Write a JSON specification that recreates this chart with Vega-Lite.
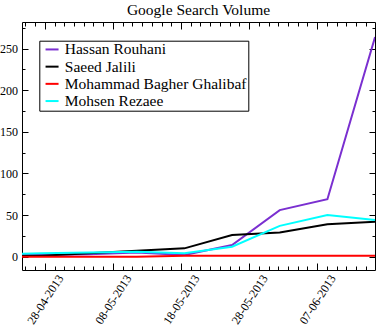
{
  "$schema": "https://vega.github.io/schema/vega-lite/v6.json",
  "width": 353,
  "height": 248,
  "autosize": "none",
  "padding": {"left": 22, "top": 22, "right": 3, "bottom": 57},
  "background": "white",
  "title": {"text": "Google Search Volume", "font": "Liberation Serif", "fontSize": 15.5, "fontWeight": "normal", "color": "#000", "anchor": "middle", "frame": "group", "baseline": "top", "offset": 3.5},
  "data": {"values": [
    {"date": "2013-04-20T12:00:00Z", "candidate": "Hassan Rouhani", "volume": 2},
    {"date": "2013-04-27T12:00:00Z", "candidate": "Hassan Rouhani", "volume": 2},
    {"date": "2013-05-04T12:00:00Z", "candidate": "Hassan Rouhani", "volume": 3},
    {"date": "2013-05-11T12:00:00Z", "candidate": "Hassan Rouhani", "volume": 5},
    {"date": "2013-05-18T12:00:00Z", "candidate": "Hassan Rouhani", "volume": 2},
    {"date": "2013-05-25T12:00:00Z", "candidate": "Hassan Rouhani", "volume": 14},
    {"date": "2013-06-01T12:00:00Z", "candidate": "Hassan Rouhani", "volume": 56},
    {"date": "2013-06-08T12:00:00Z", "candidate": "Hassan Rouhani", "volume": 69},
    {"date": "2013-06-15T12:00:00Z", "candidate": "Hassan Rouhani", "volume": 264},
    {"date": "2013-04-20T12:00:00Z", "candidate": "Saeed Jalili", "volume": 1},
    {"date": "2013-04-27T12:00:00Z", "candidate": "Saeed Jalili", "volume": 1},
    {"date": "2013-05-04T12:00:00Z", "candidate": "Saeed Jalili", "volume": 4},
    {"date": "2013-05-11T12:00:00Z", "candidate": "Saeed Jalili", "volume": 7},
    {"date": "2013-05-18T12:00:00Z", "candidate": "Saeed Jalili", "volume": 10},
    {"date": "2013-05-25T12:00:00Z", "candidate": "Saeed Jalili", "volume": 26},
    {"date": "2013-06-01T12:00:00Z", "candidate": "Saeed Jalili", "volume": 29},
    {"date": "2013-06-08T12:00:00Z", "candidate": "Saeed Jalili", "volume": 39},
    {"date": "2013-06-15T12:00:00Z", "candidate": "Saeed Jalili", "volume": 42},
    {"date": "2013-04-20T12:00:00Z", "candidate": "Mohammad Bagher Ghalibaf", "volume": 0},
    {"date": "2013-04-27T12:00:00Z", "candidate": "Mohammad Bagher Ghalibaf", "volume": 0},
    {"date": "2013-05-04T12:00:00Z", "candidate": "Mohammad Bagher Ghalibaf", "volume": 0},
    {"date": "2013-05-11T12:00:00Z", "candidate": "Mohammad Bagher Ghalibaf", "volume": 0},
    {"date": "2013-05-18T12:00:00Z", "candidate": "Mohammad Bagher Ghalibaf", "volume": 1},
    {"date": "2013-05-25T12:00:00Z", "candidate": "Mohammad Bagher Ghalibaf", "volume": 1},
    {"date": "2013-06-01T12:00:00Z", "candidate": "Mohammad Bagher Ghalibaf", "volume": 1},
    {"date": "2013-06-08T12:00:00Z", "candidate": "Mohammad Bagher Ghalibaf", "volume": 1},
    {"date": "2013-06-15T12:00:00Z", "candidate": "Mohammad Bagher Ghalibaf", "volume": 1},
    {"date": "2013-04-20T12:00:00Z", "candidate": "Mohsen Rezaee", "volume": 3},
    {"date": "2013-04-27T12:00:00Z", "candidate": "Mohsen Rezaee", "volume": 4},
    {"date": "2013-05-04T12:00:00Z", "candidate": "Mohsen Rezaee", "volume": 5},
    {"date": "2013-05-11T12:00:00Z", "candidate": "Mohsen Rezaee", "volume": 6},
    {"date": "2013-05-18T12:00:00Z", "candidate": "Mohsen Rezaee", "volume": 4},
    {"date": "2013-05-25T12:00:00Z", "candidate": "Mohsen Rezaee", "volume": 12},
    {"date": "2013-06-01T12:00:00Z", "candidate": "Mohsen Rezaee", "volume": 37},
    {"date": "2013-06-08T12:00:00Z", "candidate": "Mohsen Rezaee", "volume": 50},
    {"date": "2013-06-15T12:00:00Z", "candidate": "Mohsen Rezaee", "volume": 44}
  ]},
  "layer": [
    {
      "mark": {"type": "line", "strokeWidth": 2, "clip": true},
      "encoding": {
        "x": {"field": "date", "type": "temporal",
          "scale": {"type": "utc", "domain": [1366817760000, 1371296736000], "nice": false},
          "axis": {"orient": "bottom", "title": null, "values": [1367107200000, 1367971200000, 1368835200000, 1369699200000, 1370563200000], "format": "%d-%m-%Y", "tickSize": -7, "labelAngle": -57, "labelAlign": "center", "labelBaseline": "middle", "labelPadding": 36}},
        "y": {"field": "volume", "type": "quantitative",
          "scale": {"domain": [-16, 282], "nice": false, "zero": false},
          "axis": {"orient": "left", "title": null, "values": [0, 50, 100, 150, 200, 250], "tickSize": -6, "labelPadding": 10.5}},
        "color": {"field": "candidate", "type": "nominal",
          "scale": {"domain": ["Hassan Rouhani", "Saeed Jalili", "Mohammad Bagher Ghalibaf", "Mohsen Rezaee"], "range": ["#7a2fd0", "#000000", "#ff0000", "#00ffff"]},
          "legend": {"orient": "none", "legendX": 17.3, "legendY": 18.7, "title": null, "direction": "vertical", "symbolType": "stroke", "symbolSize": 169, "symbolStrokeWidth": 2, "symbolOffset": 4, "labelFont": "Liberation Serif", "labelFontSize": 15.5, "labelColor": "#000", "labelLimit": 0, "labelOffset": 5, "rowPadding": 0.2, "padding": 1, "strokeColor": "#000", "fillColor": "#fff", "cornerRadius": 0}}
      }
    },
    {
      "mark": {"type": "point", "opacity": 0, "clip": true},
      "encoding": {
        "x": {"field": "date", "type": "temporal",
          "axis": {"orient": "bottom", "title": null, "labels": false, "tickSize": -4, "values": [1366860342857, 1366983771429, 1367230628571, 1367354057143, 1367477485714, 1367600914286, 1367724342857, 1367847771429, 1368094628571, 1368218057143, 1368341485714, 1368464914286, 1368588342857, 1368711771429, 1368958628571, 1369082057143, 1369205485714, 1369328914286, 1369452342857, 1369575771429, 1369822628571, 1369946057143, 1370069485714, 1370192914286, 1370316342857, 1370439771429, 1370686628571, 1370810057143, 1370933485714, 1371056914286, 1371180342857]}},
        "y": {"field": "volume", "type": "quantitative",
          "axis": {"orient": "left", "title": null, "labels": false, "tickSize": -3, "values": [25, 75, 125, 175, 225, 275]}}
      }
    },
    {
      "mark": {"type": "point", "opacity": 0, "clip": true},
      "encoding": {
        "x": {"field": "date", "type": "temporal",
          "axis": {"orient": "top", "title": null, "labels": false, "tickSize": -7, "values": [1367107200000, 1367971200000, 1368835200000, 1369699200000, 1370563200000]}},
        "y": {"field": "volume", "type": "quantitative",
          "axis": {"orient": "right", "title": null, "labels": false, "tickSize": -6, "values": [0, 50, 100, 150, 200, 250]}}
      }
    },
    {
      "mark": {"type": "point", "opacity": 0, "clip": true},
      "encoding": {
        "x": {"field": "date", "type": "temporal",
          "axis": {"orient": "top", "title": null, "labels": false, "tickSize": -4, "values": [1366860342857, 1366983771429, 1367230628571, 1367354057143, 1367477485714, 1367600914286, 1367724342857, 1367847771429, 1368094628571, 1368218057143, 1368341485714, 1368464914286, 1368588342857, 1368711771429, 1368958628571, 1369082057143, 1369205485714, 1369328914286, 1369452342857, 1369575771429, 1369822628571, 1369946057143, 1370069485714, 1370192914286, 1370316342857, 1370439771429, 1370686628571, 1370810057143, 1370933485714, 1371056914286, 1371180342857]}},
        "y": {"field": "volume", "type": "quantitative",
          "axis": {"orient": "right", "title": null, "labels": false, "tickSize": -3, "values": [25, 75, 125, 175, 225, 275]}}
      }
    }
  ],
  "resolve": {"axis": {"x": "independent", "y": "independent"}},
  "config": {
    "view": {"stroke": "#000", "strokeWidth": 1},
    "legend": {"rowPadding": 0.2},
    "axis": {"domain": false, "grid": false, "tickColor": "#000", "tickWidth": 1, "labelFont": "Liberation Serif", "labelFontSize": 12, "labelColor": "#000", "labelOverlap": false, "labelFlush": false}
  }
}
